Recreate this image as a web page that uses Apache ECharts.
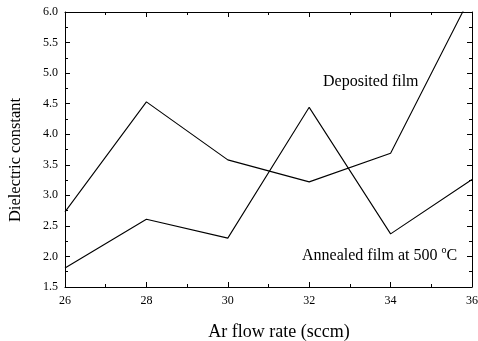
<!DOCTYPE html>
<html>
<head>
<meta charset="utf-8">
<script src="https://cdn.jsdelivr.net/npm/echarts@6/dist/echarts.min.js"></script>
<style>
html, body { margin: 0; padding: 0; background: #fff; }
#container { width: 478px; height: 341px; }
</style>
</head>
<body>
<div id="container"></div>
<script>
// Ar flow rate (sccm)
var flowRate = [26, 28, 30, 32, 34, 36];
// dielectric constant
var deposited = [2.73, 4.53, 3.58, 3.22, 3.69, 6.3];
var annealed = [1.81, 2.61, 2.30, 4.44, 2.37, 3.26];

var serif = 'Liberation Serif, Times New Roman, serif';

function pairs(xs, ys) {
    var out = [];
    for (var i = 0; i < xs.length; i++) {
        out.push([xs[i], ys[i]]);
    }
    return out;
}

function frameAxis(base) {
    // axis used only for the box with inward ticks
    return Object.assign({
        type: 'value',
        axisLine: { show: true, lineStyle: { color: '#000', width: 1 } },
        axisTick: { show: true, inside: true, length: 5, lineStyle: { color: '#000' } },
        minorTick: { show: true, splitNumber: 2, length: 3, lineStyle: { color: '#000' } },
        splitLine: { show: false },
        axisLabel: { show: false }
    }, base);
}

var myChart = echarts.init(document.getElementById('container'));
var option = {
    animation: false,
    grid: { left: 65, right: 6, top: 12, bottom: 54, containLabel: false, outerBoundsMode: 'none' },
    xAxis: [
        frameAxis({
            min: 26, max: 36, interval: 2, position: 'bottom',
            axisLabel: { show: true, color: '#000', fontFamily: serif, fontSize: 12, margin: 8 },
            name: 'Ar flow rate (sccm)',
            nameLocation: 'middle',
            nameGap: 36,
            nameTextStyle: { color: '#000', fontFamily: serif, fontSize: 18, padding: [0, 0, 0, 21] }
        }),
        frameAxis({ min: 26, max: 36, interval: 2, position: 'top' })
    ],
    yAxis: [
        frameAxis({
            min: 1.5, max: 6.0, interval: 0.5, position: 'left',
            axisLabel: {
                show: true, color: '#000', fontFamily: serif, fontSize: 12, margin: 7,
                formatter: function (v) { return v.toFixed(1); }
            },
            name: 'Dielectric constant',
            nameLocation: 'middle',
            nameGap: 41,
            nameTextStyle: { color: '#000', fontFamily: serif, fontSize: 16.5, padding: [0, 21, 0, 0] }
        }),
        frameAxis({ min: 1.5, max: 6.0, interval: 0.5, position: 'right' })
    ],
    series: [
        {
            name: 'Deposited film',
            type: 'line',
            data: pairs(flowRate, deposited),
            symbol: 'none',
            lineStyle: { color: '#000', width: 1.1 }
        },
        {
            name: 'Annealed film at 500 °C',
            type: 'line',
            data: pairs(flowRate, annealed),
            symbol: 'none',
            lineStyle: { color: '#000', width: 1.1 }
        }
    ],
    graphic: [
        {
            type: 'text', left: 323, top: 74,
            style: { text: 'Deposited film', fill: '#000', font: '16px ' + serif }
        },
        {
            type: 'text', left: 302, top: 245,
            style: {
                text: '{n|Annealed film at 500 }{s|o}{n|C}',
                rich: {
                    n: { fill: '#000', fontFamily: serif, fontSize: 16, verticalAlign: 'bottom' },
                    s: { fill: '#000', fontFamily: serif, fontSize: 10, verticalAlign: 'top', padding: [0, 0, 9, 0] }
                }
            }
        }
    ]
};
myChart.setOption(option);
</script>
</body>
</html>
